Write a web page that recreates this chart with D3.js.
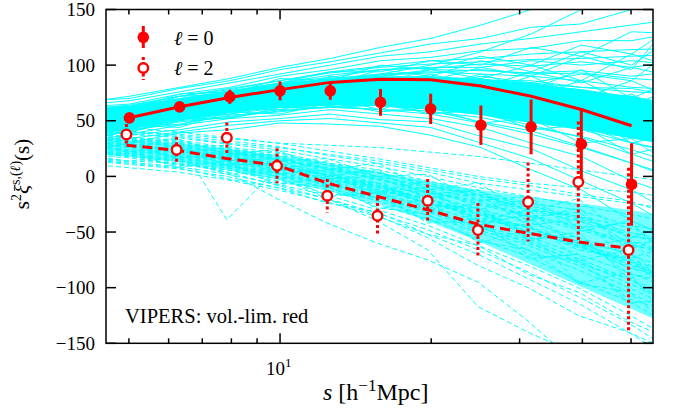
<!DOCTYPE html>
<html><head><meta charset="utf-8">
<script src="https://cdn.jsdelivr.net/npm/d3@7"></script>
<style>
body{margin:0;background:#fff}
svg{display:block}
</style>
</head><body>
<svg id="c" width="675" height="417"></svg>
<script>
// ---- data ----
const sBins = [5.012, 6.310, 7.943, 10.0, 12.59, 15.85, 19.95, 25.12, 31.62, 39.81, 50.12];
const xi0   = [52.6, 62.5, 71.5, 76.9, 76.9, 66.5, 60.7, 46.0, 44.5, 29.0, -7.2];
const err0  = [3.5, 4.0, 6.3, 8.5, 8.0, 12.0, 13.6, 17.7, 24.6, 31.0, 37.0];
const xi2   = [37.7, 23.9, 34.7, 9.5, -17.4, -35.4, -21.9, -48.2, -23.1, -5.1, -66.2];
const err2  = [9.5, 11.7, 13.8, 15.7, 15.0, 16.5, 19.5, 24.3, 35.5, 54.5, 74.0];
const model0 = [52.7, 62.6, 71.0, 78.0, 84.5, 87.3, 86.8, 81.2, 72.1, 60.1, 45.5];
const model2 = [28.0, 23.5, 16.0, 10.0, -6.0, -18.0, -30.0, -43.0, -51.0, -59.0, -64.5];

const mockS = [3.981, 5.012, 6.310, 7.943, 10.0, 12.59, 15.85, 19.95, 25.12, 31.62, 39.81, 50.12, 63.10];
const core0Hi = [60, 63, 70, 77, 84, 88, 90, 90, 88, 84, 78, 72, 64];
const core0Lo = [36, 42, 50, 57, 62, 64, 63, 60, 55, 48, 42, 34, 26];
const core2Hi = [36, 33, 30, 25, 19, 12, 4, -4, -12, -18, -24, -30, -38];
const core2Lo = [22, 18, 13, 6, -3, -13, -25, -40, -58, -78, -98, -118, -138];

const mock0 = [
 [45,52,59,66,72,77,80,79,76,72,64,57,48],
 [56,60,69,75,84,89,96,97,101,99,103,98,104],
 [32,42,47,55,58,63,60,59,49,41,27,12,-5],
 [50,57,62,71,76,84,86,89,86,86,80,79,71],
 [38,45,54,58,66,68,70,67,63,53,46,30,20],
 [62,65,74,80,90,96,104,107,113,115,122,122,130],
 [26,37,42,49,52,56,51,49,36,25,5,-12,-38],
 [68,70,79,86,96,103,111,119,124,134,137,150,158],
 [21,30,39,42,48,47,45,37,26,6,-12,-40,-60],
 [47,50,60,64,73,74,79,76,73,69,60,52,42],
 [53,59,65,74,80,87,91,93,96,92,93,88,85],
 [40,48,50,62,67,72,72,72,66,60,52,38,30],
 [58,63,70,77,84,91,96,98,98,104,100,104,100],
 [35,44,51,56,62,64,66,62,56,46,35,20,5],
 [44,55,58,68,70,78,76,82,74,74,61,62,45],
 [60,64,72,78,86,94,99,104,106,110,112,114,115],
 [30,38,46,52,55,60,56,52,44,30,18,-4,-20],
 [49,54,64,68,78,80,86,84,87,82,78,70,64],
 [42,47,56,60,69,70,73,70,65,60,48,40,25],
 [52,58,60,70,76,82,83,88,84,82,75,72,62],
 [38,50,55,62,66,72,72,73,67,60,55,44,38],
 [55,61,66,74,79,86,90,96,95,93,95,90,95],
 [33,40,50,54,60,62,64,58,53,44,36,24,10],
 [46,53,60,68,74,80,84,84,82,78,74,66,60],
 [41,48,54,62,68,70,71,70,66,62,54,46,34],
 [64,68,76,84,92,100,108,112,119,124,130,136,142],
 [24,34,40,46,50,52,48,44,30,16,-4,-24,-50],
 [52,55,64,69,77,84,82,90,80,82,70,72,58],
 [36,46,52,58,64,66,68,64,60,50,42,30,22],
 [48,56,62,70,74,82,82,86,84,84,80,76,74],
 [57,62,67,76,82,88,92,94,92,90,86,80,78],
 [43,49,57,64,70,74,74,74,70,64,58,48,40],
 [61,63,72,79,86,93,98,101,103,105,106,108,110],
 [34,41,49,53,59,62,60,56,48,38,26,12,-2],
 [50,52,62,66,74,78,80,84,78,76,70,62,56],
 [45,51,58,64,72,75,78,75,73,66,58,50,42],
 [56,60,66,74,80,86,92,100,112,128,150,168,180],
 [66,72,80,88,98,106,116,124,136,150,162,170,178],
 [50,46,63,62,80,72,88,80,92,78,96,70,90],
 [40,54,52,66,64,80,70,84,68,80,60,74,50],
 [58,52,68,70,76,90,84,96,88,100,86,110,96],
 [36,48,46,60,60,70,60,74,58,66,44,52,24],
 [46,58,56,72,70,84,82,92,80,94,84,98,88],
 [54,48,62,64,74,76,86,82,90,84,92,86,120],
 [42,44,58,58,70,66,78,68,76,62,70,46,60],
 [62,58,72,74,88,86,100,96,108,100,118,110,140],
 [30,46,44,58,56,66,58,62,48,52,30,34,4],
 [48,52,56,70,68,82,78,88,76,90,70,86,66],
 [52,60,58,72,78,80,92,86,98,90,108,96,150],
 [38,42,54,56,66,64,72,64,70,54,58,30,40],
 [44,56,60,64,78,76,84,78,88,72,86,64,82],
 [56,54,70,68,84,82,96,90,104,94,112,100,130],
 [34,40,52,52,62,62,66,56,60,42,46,20,30],
 [60,60,74,76,84,94,94,104,100,116,108,130,128]
];

const mock2 = [
 [31,27,23,17,10,1,-9,-21,-34,-46,-60,-76,-92],
 [41,35,33,26,22,12,6,-4,-14,-24,-30,-44,-50],
 [19,17,11,6,-4,-12,-26,-38,-56,-72,-94,-112,-138],
 [36,31,28,21,15,7,-3,-14,-25,-36,-48,-60,-74],
 [25,21,17,10,3,-7,-17,-31,-45,-60,-76,-96,-116],
 [45,41,37,32,27,19,12,4,-6,-12,-18,-24,-30],
 [15,11,7,0,-10,-20,-33,-48,-66,-86,-108,-132,-160],
 [33,29,24,19,12,4,-6,-17,-29,-41,-55,-70,-86],
 [27,23,19,13,5,-4,-14,-27,-40,-54,-70,-86,-104],
 [38,34,30,24,17,10,0,-10,-20,-30,-40,-52,-64],
 [22,18,14,8,0,-10,-22,-35,-50,-66,-84,-104,-126],
 [48,44,40,35,30,23,16,8,0,-6,-10,-14,-20],
 [12,8,4,-3,-12,-23,-36,-52,-70,-92,-114,-140,-168],
 [34,26,26,16,12,0,-6,-24,-30,-50,-58,-80,-90],
 [28,27,18,17,6,2,-14,-19,-40,-44,-66,-74,-100],
 [40,33,32,24,21,10,4,-8,-16,-30,-36,-54,-58],
 [20,19,10,8,-6,-9,-28,-34,-58,-66,-96,-104,-140],
 [30,24,22,14,9,-2,-10,-24,-34,-50,-62,-82,-94],
 [35,32,27,22,16,8,-2,-12,-24,-34,-46,-58,-70],
 [24,20,16,9,2,-8,-20,-32,-48,-62,-80,-100,-120],
 [43,38,35,29,24,16,9,0,-10,-18,-26,-34,-42],
 [17,13,9,2,-7,-17,-30,-44,-62,-80,-100,-124,-150],
 [32,30,22,18,8,2,-12,-20,-38,-46,-64,-76,-98],
 [29,22,21,12,9,-4,-8,-26,-32,-52,-60,-82,-92],
 [37,33,29,23,16,6,-2,-14,-22,-36,-44,-62,-68],
 [23,20,14,10,0,-6,-20,-30,-46,-58,-78,-92,-118],
 [39,35,31,25,19,12,3,-6,-16,-26,-36,-46,-56],
 [26,23,18,11,4,-6,-16,-28,-44,-56,-74,-92,-110],
 [30,26,34,-39,7,-2,-12,-24,-36,-50,-62,-78,-96],
 [28,22,14,4,-20,-42,-60,-75,-95,-130,-170,-210,-250],
 [30,24,18,10,0,-20,-40,-66,-117,-140,-160,-180,-200],
 [-20,30,24,18,10,2,-8,-20,-32,-46,-60,-74,-90],
 [44,40,38,34,30,28,26,22,18,12,6,0,-6],
 [18,14,12,4,-8,-20,-35,-55,-80,-100,-125,-140,-160],
 [32,28,25,20,14,8,0,-8,-18,-28,-38,-50,-60],
 [34,22,28,14,16,-2,0,-20,-16,-44,-38,-74,-60],
 [24,30,16,22,2,6,-20,-12,-44,-34,-76,-66,-120],
 [40,30,34,20,24,6,12,-12,-6,-32,-20,-56,-40],
 [18,24,8,14,-8,0,-30,-20,-60,-48,-96,-86,-140],
 [30,34,20,26,6,14,-14,-4,-30,-20,-50,-40,-80],
 [28,18,26,10,12,-10,-2,-32,-24,-58,-50,-92,-80],
 [36,28,30,18,20,0,6,-20,-12,-40,-28,-66,-50],
 [22,20,12,6,-2,-16,-18,-40,-42,-70,-76,-110,-124],
 [32,26,22,20,8,4,-10,-14,-34,-38,-60,-68,-96],
 [26,30,18,16,10,-4,-6,-26,-28,-56,-54,-88,-96],
 [38,36,26,28,14,16,0,2,-22,-18,-46,-42,-78],
 [20,14,16,2,4,-18,-14,-42,-38,-74,-70,-114,-110],
 [44,38,36,30,26,20,14,6,-2,-8,-16,-22,-36],
 [16,12,8,-2,-10,-24,-32,-52,-62,-88,-104,-130,-150],
 [30,22,24,14,6,2,-16,-10,-40,-30,-64,-56,-96],
 [34,32,26,22,18,4,4,-16,-12,-36,-32,-60,-58]
];

const yTicks = [-150, -100, -50, 0, 50, 100, 150];
const xMinorTicks = [5, 6, 7, 8, 9, 20, 30, 40, 50];
const xMajorTicks = [10];

// ---- layout ----
const FONT = "'Liberation Serif', 'DejaVu Serif', serif";
const L = 106, R = 653, T = 9.5, B = 343.3;
const svg = d3.select("#c").style("font-family", FONT);
const x = d3.scaleLog().domain([4.502, 55.3]).range([L, R]);
const y = d3.scaleLinear().domain([-150, 150]).range([B, T]);
const CYAN = "#00ffff", RED = "#ff0000";
const dx2 = -3; // l=2 points drawn slightly left

svg.append("defs").append("clipPath").attr("id", "clip")
  .append("rect").attr("x", L).attr("y", T).attr("width", R - L).attr("height", B - T);

const plot = svg.append("g").attr("clip-path", "url(#clip)");

const lineGen = d3.line().x((d, i) => x(mockS[i])).y(d => y(d));
const areaGen = (lo, hi) => d3.area().x((d, i) => x(mockS[i])).y0((d, i) => y(lo[i])).y1((d, i) => y(hi[i]))(lo);

// l=2 mocks
const g2 = plot.append("g").attr("transform", `translate(${dx2},0)`);
g2.append("path").attr("d", areaGen(core2Lo, core2Hi)).attr("fill", CYAN).attr("opacity", 0.55);
g2.selectAll("path.m2").data(mock2).join("path").attr("class", "m2")
  .attr("d", lineGen).attr("fill", "none").attr("stroke", CYAN).attr("stroke-width", 1)
  .attr("stroke-dasharray", "5,3");

// l=0 mocks
plot.append("path").attr("d", areaGen(core0Lo, core0Hi)).attr("fill", CYAN);
plot.selectAll("path.m0").data(mock0).join("path").attr("class", "m0")
  .attr("d", lineGen).attr("fill", "none").attr("stroke", CYAN).attr("stroke-width", 1);

// frame & ticks
const ax = svg.append("g").attr("stroke", "#000").attr("stroke-width", 1.5);
ax.append("rect").attr("x", L).attr("y", T).attr("width", R - L).attr("height", B - T).attr("fill", "none");
yTicks.forEach(v => {
  ax.append("line").attr("x1", L).attr("x2", L + 10).attr("y1", y(v)).attr("y2", y(v));
  ax.append("line").attr("x1", R).attr("x2", R - 10).attr("y1", y(v)).attr("y2", y(v));
});
xMinorTicks.forEach(v => {
  ax.append("line").attr("x1", x(v)).attr("x2", x(v)).attr("y1", B).attr("y2", B - 5);
  ax.append("line").attr("x1", x(v)).attr("x2", x(v)).attr("y1", T).attr("y2", T + 5);
});
xMajorTicks.forEach(v => {
  ax.append("line").attr("x1", x(v)).attr("x2", x(v)).attr("y1", B).attr("y2", B - 10);
  ax.append("line").attr("x1", x(v)).attr("x2", x(v)).attr("y1", T).attr("y2", T + 10);
});

// tick labels
svg.selectAll("text.yt").data(yTicks).join("text").attr("class", "yt")
  .attr("x", 95).attr("y", d => y(d) + 6.5).attr("text-anchor", "end")
  .style("font-size", "19px").text(d => d < 0 ? "\u2212" + Math.abs(d) : d);
xMajorTicks.forEach(v => {
  const t = svg.append("text").attr("x", x(v) - 14).attr("y", 375).style("font-size", "19px");
  t.append("tspan").text("10");
  t.append("tspan").attr("dy", -8).style("font-size", "13px").text("1");
});

// model lines
const mLine = d3.line().x((d, i) => x(sBins[i])).y(d => y(d));
svg.append("path").attr("d", mLine(model0)).attr("fill", "none").attr("stroke", RED).attr("stroke-width", 3);
svg.append("path").attr("d", mLine(model2)).attr("transform", `translate(${dx2},0)`)
  .attr("fill", "none").attr("stroke", RED).attr("stroke-width", 3).attr("stroke-dasharray", "10,6");

// l=2 error bars + markers
const e2 = svg.append("g").attr("transform", `translate(${dx2},0)`);
e2.selectAll("line").data(xi2).join("line")
  .attr("x1", (d, i) => x(sBins[i])).attr("x2", (d, i) => x(sBins[i]))
  .attr("y1", (d, i) => y(d + err2[i])).attr("y2", (d, i) => y(d - err2[i]))
  .attr("stroke", RED).attr("stroke-width", 3).attr("stroke-dasharray", "3,2.5");
e2.selectAll("circle").data(xi2).join("circle")
  .attr("cx", (d, i) => x(sBins[i])).attr("cy", d => y(d)).attr("r", 4.8)
  .attr("fill", "#fff").attr("stroke", RED).attr("stroke-width", 2.4);

// l=0 error bars + markers
const e0 = svg.append("g");
e0.selectAll("line").data(xi0).join("line")
  .attr("x1", (d, i) => x(sBins[i])).attr("x2", (d, i) => x(sBins[i]))
  .attr("y1", (d, i) => y(d + err0[i])).attr("y2", (d, i) => y(d - err0[i]))
  .attr("stroke", RED).attr("stroke-width", 3);
e0.selectAll("circle").data(xi0).join("circle")
  .attr("cx", (d, i) => x(sBins[i])).attr("cy", d => y(d)).attr("r", 5.8).attr("fill", RED);

// legend
const lg = svg.append("g");
lg.append("line").attr("x1", 143.3).attr("x2", 143.3).attr("y1", 26).attr("y2", 48)
  .attr("stroke", RED).attr("stroke-width", 3);
lg.append("circle").attr("cx", 143.3).attr("cy", 37.3).attr("r", 5.8).attr("fill", RED);
lg.append("line").attr("x1", 143.3).attr("x2", 143.3).attr("y1", 57).attr("y2", 80)
  .attr("stroke", RED).attr("stroke-width", 3).attr("stroke-dasharray", "3,2.5");
lg.append("circle").attr("cx", 143.3).attr("cy", 68).attr("r", 4.8)
  .attr("fill", "#fff").attr("stroke", RED).attr("stroke-width", 2.4);
[["0", 45.3], ["2", 74.7]].forEach(([l, yy]) => {
  const t = lg.append("text").attr("x", 174).attr("y", yy).style("font-size", "20px");
  t.append("tspan").style("font-style", "italic").text("\u2113");
  t.append("tspan").text(" = " + l);
});

// annotation
svg.append("text").attr("x", 125).attr("y", 323.3).style("font-size", "20.5px").text("VIPERS: vol.-lim. red");

// x label
const xl = svg.append("text").attr("x", 323).attr("y", 400).style("font-size", "24px");
xl.append("tspan").style("font-style", "italic").text("s");
xl.append("tspan").text(" [h");
xl.append("tspan").attr("dy", -9).style("font-size", "17px").text("\u22121");
xl.append("tspan").attr("dy", 9).text("Mpc]");

// y label
const yl = svg.append("text").attr("transform", "translate(28.5,174) rotate(-90)")
  .attr("text-anchor", "middle").style("font-size", "21px");
yl.append("tspan").text("s");
yl.append("tspan").attr("dy", -8).style("font-size", "14px").text("2");
yl.append("tspan").attr("dy", 8).style("font-style", "italic").text("\u03be");
yl.append("tspan").attr("dy", -9).style("font-size", "14px").text("s,(");
yl.append("tspan").style("font-size", "14px").style("font-style", "italic").text("\u2113");
yl.append("tspan").style("font-size", "14px").text(")");
yl.append("tspan").attr("dy", 9).text("(s)");
</script>
</body></html>
